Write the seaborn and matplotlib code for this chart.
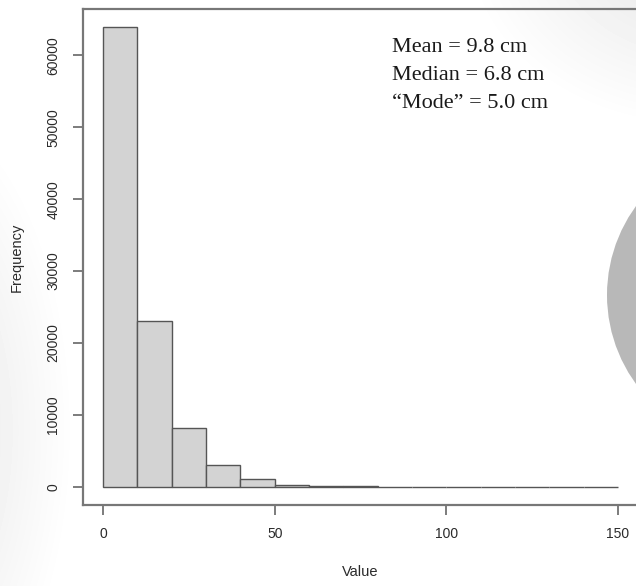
import numpy as np
import pandas as pd
import matplotlib
matplotlib.use("Agg")
import matplotlib.pyplot as plt
import seaborn as sns
from matplotlib.patches import Ellipse

# ---- data ----
bin_edges = [0, 10, 20, 30, 40, 50, 60, 70, 80, 90, 100, 110, 120, 130, 140, 150]
bin_counts = [63900, 23100, 8100, 3050, 1000, 280, 95, 35, 14, 6, 3, 2, 1, 1, 1]
x_ticks = [0, 50, 100, 150]
y_ticks = [0, 10000, 20000, 30000, 40000, 50000, 60000]
stats_lines = ["Mean = 9.8 cm", "Median = 6.8 cm", "\u201cMode\u201d = 5.0 cm"]

centers = [(a + b) / 2 for a, b in zip(bin_edges[:-1], bin_edges[1:])]
df = pd.DataFrame({"Value": centers, "count": bin_counts})

sns.set_theme(style="white")
plt.rcParams["font.family"] = ["Liberation Sans", "DejaVu Sans"]

W, H = 636, 586
fig = plt.figure(figsize=(W / 100, H / 100), dpi=100)

# ---- background vignette ----
bg = fig.add_axes([0, 0, 1, 1], zorder=-10)
yy, xx = np.mgrid[0:H, 0:W]
img = np.ones((H, W))
d1 = np.sqrt(((xx + 100) / 175.0) ** 2 + ((yy - 430) / 340.0) ** 2)
img -= 0.12 * np.clip(1 - d1, 0, 1)
d2 = np.sqrt(((xx - 700) / 240.0) ** 2 + ((yy + 60) / 190.0) ** 2)
img -= 0.11 * np.clip(1 - d2, 0, 1)
bg.imshow(img, cmap="gray", vmin=0, vmax=1, extent=[0, W, H, 0], aspect="auto",
          interpolation="bilinear")
bg.set_xlim(0, W)
bg.set_ylim(H, 0)
bg.axis("off")

# ---- main axes (R-like, right side cropped) ----
left_px, right_px, top_px, bottom_px = 82.5, 638.5, 9, 505
ax = fig.add_axes([left_px / W, 1 - bottom_px / H, (right_px - left_px) / W,
                   (bottom_px - top_px) / H])
ax.set_facecolor("none")

sns.histplot(data=df, x="Value", weights="count", bins=bin_edges, stat="count",
             color="#d3d3d3", edgecolor="#555555", linewidth=1.0, alpha=1.0, ax=ax)

ax.set_xlim(-6, 156)
ax.set_ylim(-0.04 * 63900, 63900 * 1.04)
ax.set_xticks(x_ticks)
ax.set_yticks(y_ticks)
ax.set_xticklabels([str(v) for v in x_ticks])
ax.set_yticklabels([str(v) for v in y_ticks], rotation=90, va="center")
ax.tick_params(axis="both", which="both", direction="out", length=7, width=1.2,
               color="#666666", labelsize=10, labelcolor="#2a2a2a", pad=9,
               bottom=True, left=True)
ax.set_xlabel("Value", fontsize=10.5, color="#2a2a2a", labelpad=17)
ax.set_ylabel("Frequency", fontsize=10.5, color="#2a2a2a", labelpad=16)
for s in ax.spines.values():
    s.set_visible(True)
    s.set_color("#777777")
    s.set_linewidth(1.6)
ax.grid(False)

# ---- annotation ----
for i, t in enumerate(stats_lines):
    fig.text(392 / W, 1 - (47 + 28 * i) / H, t, fontsize=16, va="center", ha="left",
             family=["Liberation Serif", "DejaVu Serif"], color="#1a1a1a")

# ---- decorative circle on the right ----
circ = Ellipse((758, H - 295), 302, 302, transform=None, facecolor="#b8b8b8",
               edgecolor="none", zorder=20)
fig.patches.append(circ)

fig.savefig("out.png", dpi=100)
